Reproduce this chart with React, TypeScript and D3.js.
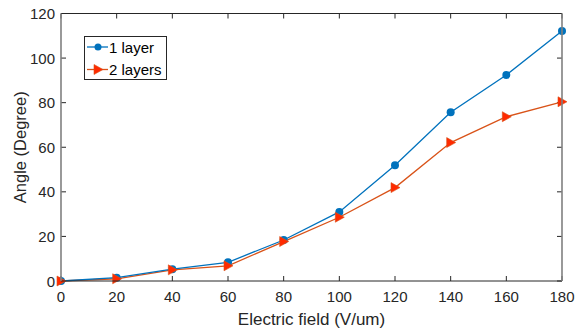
import React from "react";
import * as d3 from "d3";

const fields = [0, 20, 40, 60, 80, 100, 120, 140, 160, 180];
const oneLayer = [0, 1.5, 5.3, 8.4, 18.4, 31.0, 51.9, 75.7, 92.4, 112.2];
const twoLayers = [0, 1.0, 5.0, 6.8, 17.7, 28.6, 41.9, 62.1, 73.7, 80.4];
const xTicks = [0, 20, 40, 60, 80, 100, 120, 140, 160, 180];
const yTicks = [0, 20, 40, 60, 80, 100, 120];

const W = 575;
const H = 331;
const margin = { top: 13.5, right: 13, bottom: 50, left: 61 };

const FONT = "'Liberation Sans', Arial, Helvetica, sans-serif";
const BLUE = "#0072BD";
const ORANGE = "#D95319";
const RED = "#FF2A00";

const App: React.FC = () => {
  const x = d3.scaleLinear().domain([0, 180]).range([margin.left, W - margin.right]);
  const y = d3.scaleLinear().domain([0, 120]).range([H - margin.bottom, margin.top]);

  const line = d3
    .line<number>()
    .x((_, i) => x(fields[i]))
    .y((d) => y(d));

  const x0 = x(0);
  const x1 = x(180);
  const y0 = y(0);
  const y1 = y(120);
  const tick = 5;

  // right-pointing triangle marker
  const tri = (cx: number, cy: number, s = 5) =>
    `M${cx + s},${cy} L${cx - s * 0.8},${cy - s} L${cx - s * 0.8},${cy + s} Z`;

  return (
    <svg
      width={W}
      height={H}
      style={{ position: "absolute", left: 0, top: 0, background: "#fff" }}
      fontFamily={FONT}
    >
      <rect x={0} y={0} width={W} height={H} fill="#fff" />

      {/* ticks, inside, on all four sides */}
      <g stroke="#262626" strokeWidth={1}>
        {xTicks.map((t) => (
          <g key={"xt" + t}>
            <line x1={x(t)} x2={x(t)} y1={y0} y2={y0 - tick} />
            <line x1={x(t)} x2={x(t)} y1={y1} y2={y1 + tick} />
          </g>
        ))}
        {yTicks.map((t) => (
          <g key={"yt" + t}>
            <line x1={x0} x2={x0 + tick} y1={y(t)} y2={y(t)} />
            <line x1={x1} x2={x1 - tick} y1={y(t)} y2={y(t)} />
          </g>
        ))}
      </g>

      {/* series lines */}
      <path d={line(twoLayers) ?? ""} fill="none" stroke={ORANGE} strokeWidth={1.3} />
      <path d={line(oneLayer) ?? ""} fill="none" stroke={BLUE} strokeWidth={1.3} />

      {oneLayer.map((v, i) => (
        <circle key={"c" + i} cx={x(fields[i])} cy={y(v)} r={4} fill={BLUE} />
      ))}
      {twoLayers.map((v, i) => (
        <path key={"t" + i} d={tri(x(fields[i]), y(v))} fill={RED} stroke={ORANGE} strokeWidth={0.6} />
      ))}

      {/* axes box */}
      <g stroke="#262626" strokeWidth={1} fill="none">
        <line x1={x0} x2={x1} y1={y0} y2={y0} />
        <line x1={x0} x2={x1} y1={y1} y2={y1} />
        <line x1={x0} x2={x0} y1={y0} y2={y1} stroke="#808080" strokeWidth={1.6} />
        <line x1={x1} x2={x1} y1={y0} y2={y1} stroke="#808080" strokeWidth={1.6} />
      </g>

      {/* tick labels */}
      <g fill="#262626" fontSize={15}>
        {xTicks.map((t) => (
          <text key={"xl" + t} x={x(t)} y={y0 + 20.5} textAnchor="middle">
            {t}
          </text>
        ))}
        {yTicks.map((t) => (
          <text key={"yl" + t} x={x0 - 6} y={y(t) + 5.5} textAnchor="end">
            {t}
          </text>
        ))}
      </g>

      {/* axis labels */}
      <text x={(x0 + x1) / 2} y={H - 6} textAnchor="middle" fontSize={17} fill="#262626">
        Electric field (V/um)
      </text>
      <text
        transform={`translate(26,${(y0 + y1) / 2}) rotate(-90)`}
        textAnchor="middle"
        fontSize={16.5}
        fill="#262626"
      >
        Angle (Degree)
      </text>

      {/* legend */}
      <g>
        <rect x={84.5} y={36.5} width={82} height={43} fill="#fff" stroke="#262626" strokeWidth={1} />
        <line x1={87} x2={108} y1={47} y2={47} stroke={BLUE} strokeWidth={1.3} />
        <circle cx={98} cy={47} r={3.5} fill={BLUE} />
        <text x={109} y={52.5} fontSize={15} fill="#000">
          1 layer
        </text>
        <line x1={87} x2={108} y1={69.5} y2={69.5} stroke={ORANGE} strokeWidth={1.3} />
        <path d={tri(98, 69.5, 5)} fill={RED} stroke={ORANGE} strokeWidth={0.6} />
        <text x={109} y={75} fontSize={15} fill="#000">
          2 layers
        </text>
      </g>
    </svg>
  );
};

export default App;
